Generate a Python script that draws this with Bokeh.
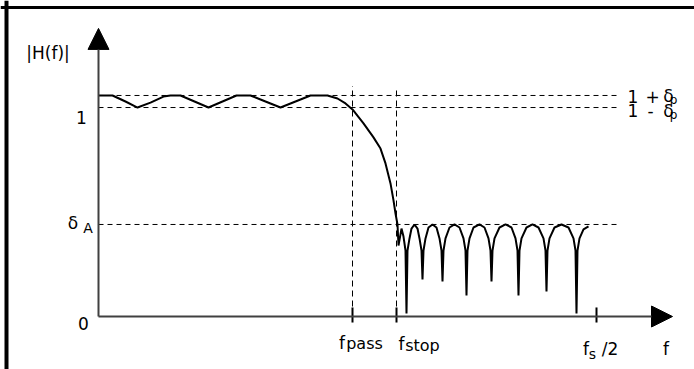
from bokeh.plotting import figure
from bokeh.models import ColumnDataSource, Range1d, Arrow, NormalHead, Span
from bokeh.core.properties import value
from bokeh.embed import file_html
from bokeh.resources import INLINE

# ---- data (normalized frequency, magnitude) ----
f_pass = 0.254
f_stop = 0.298
f_half = 0.498          # fs/2
delta_p_hi = 1.028      # 1 + delta_p
delta_p_lo = 0.972      # 1 - delta_p
delta_a = 0.428         # stopband level

passband_f = [0.000, 0.014, 0.027, 0.039, 0.052, 0.065, 0.072, 0.082, 0.096, 0.110,
              0.124, 0.138, 0.152, 0.167, 0.182, 0.197, 0.212, 0.229]
passband_mag = [1.028, 1.028, 1.000, 0.972, 0.995, 1.023, 1.028, 1.028, 1.000, 0.972,
                1.000, 1.028, 1.028, 1.000, 0.972, 1.000, 1.028, 1.028]

transition_f = [0.239, 0.247, 0.254, 0.265, 0.275, 0.282, 0.287, 0.292, 0.295, 0.297, 0.299]
transition_mag = [1.014, 0.991, 0.963, 0.898, 0.833, 0.781, 0.712, 0.619, 0.540, 0.479, 0.428]

stopband_f = [0.300, 0.303, 0.305, 0.307, 0.308, 0.309, 0.311, 0.313, 0.316, 0.319,
              0.321, 0.323, 0.324, 0.325, 0.327, 0.330, 0.334, 0.338, 0.341, 0.343,
              0.344, 0.345, 0.347, 0.351, 0.356, 0.361, 0.365, 0.367, 0.368, 0.369,
              0.371, 0.375, 0.381, 0.386, 0.390, 0.392, 0.393, 0.394, 0.396, 0.401,
              0.407, 0.413, 0.417, 0.419, 0.420, 0.421, 0.423, 0.428, 0.434, 0.440,
              0.445, 0.447, 0.448, 0.449, 0.451, 0.456, 0.463, 0.470, 0.475, 0.477,
              0.478, 0.479, 0.481, 0.485, 0.490]
stopband_mag = [0.330, 0.409, 0.372, 0.307, 0.014, 0.307, 0.363, 0.409, 0.428, 0.409,
                0.363, 0.307, 0.172, 0.307, 0.363, 0.414, 0.428, 0.414, 0.363, 0.307,
                0.163, 0.307, 0.363, 0.414, 0.428, 0.414, 0.363, 0.307, 0.098, 0.307,
                0.363, 0.414, 0.428, 0.414, 0.363, 0.307, 0.163, 0.307, 0.363, 0.414,
                0.428, 0.414, 0.363, 0.307, 0.098, 0.307, 0.363, 0.414, 0.428, 0.414,
                0.363, 0.307, 0.116, 0.307, 0.363, 0.414, 0.428, 0.414, 0.363, 0.307,
                0.014, 0.307, 0.363, 0.405, 0.419]

tick_freqs = [f_pass, f_stop, f_half]

# ---- figure ----
p = figure(width=694, height=369, output_backend="svg", toolbar_location=None,
           x_range=Range1d(-0.098, 0.596), y_range=Range1d(-0.24651, 1.46977),
           x_axis_location=None, y_axis_location=None, min_border=0)
p.grid.visible = False
p.outline_line_color = None
p.background_fill_color = "white"
p.border_fill_color = "white"

# frame (left and top edges only visible)
p.add_layout(Span(location=-0.092, dimension="height", line_color="black", line_width=4))
p.add_layout(Span(location=1.4372, dimension="width", line_color="black", line_width=3))

# guide lines
guide_end = 0.519
p.segment(x0=[0, 0], y0=[delta_p_hi, delta_p_lo], x1=[guide_end, guide_end],
          y1=[delta_p_hi, delta_p_lo], line_color="black", line_width=1, line_dash="5 4")
p.segment(x0=[0], y0=[delta_a], x1=[0.522], y1=[delta_a],
          line_color="black", line_width=1, line_dash="5 4")
p.segment(x0=[f_pass, f_stop], y0=[0, 0], x1=[f_pass, f_stop], y1=[1.072, 1.065],
          line_color="black", line_width=1, line_dash="6 4")

# ticks on the frequency axis
p.segment(x0=tick_freqs, y0=[-0.028] * 3, x1=tick_freqs, y1=[0.042] * 3,
          line_color="black", line_width=2)

# axes with arrow heads
p.add_layout(Arrow(end=NormalHead(size=21, fill_color="black", line_color="black"),
                   x_start=0, y_start=0, x_end=0, y_end=1.34,
                   line_color="#404040", line_width=2))
p.add_layout(Arrow(end=NormalHead(size=21, fill_color="black", line_color="black"),
                   x_start=0, y_start=0, x_end=0.574, y_end=0,
                   line_color="#404040", line_width=2))

# response curve
curve_f = passband_f + transition_f + stopband_f
curve_mag = passband_mag + transition_mag + stopband_mag
p.line(curve_f, curve_mag, line_color="black", line_width=2)

# ---- labels ----
font = value("DejaVu Sans")

def add_labels(rows, size):
    src = ColumnDataSource(dict(
        text=[r[0] for r in rows], x=[r[1] for r in rows], y=[r[2] for r in rows],
        dx=[r[3] for r in rows], dy=[r[4] for r in rows]))
    p.text(x="x", y="y", text="text", x_offset="dx", y_offset="dy", source=src,
           text_font=font, text_font_size=value(size), text_align="center",
           text_baseline="alphabetic", text_color="black")

big = [
    ("|H(f)|", 0, 1.0, -50.5, -49),
    ("1", 0, 1.0, -17, 16),
    ("0", 0, 0, -15, 7),
    ("δ", 0, delta_a, -25.5, -1),
    ("f", f_pass, 0, -10.5, 26),
    ("f", f_stop, 0, 5, 27),
    ("f", f_half, 0, -10.5, 32),
    ("/2", f_half, 0, 13.5, 32),
    ("f", 0.574, 0, -6.5, 32),
    ("1", guide_end, delta_p_hi, 15.5, 1),
    ("+", guide_end, delta_p_hi, 35, 1),
    ("δ", guide_end, delta_p_hi, 51, 1),
    ("1", guide_end, delta_p_lo, 15.5, 3),
    ("-", guide_end, delta_p_lo, 33, 3),
    ("δ", guide_end, delta_p_lo, 51, 3),
]
mid = [
    ("pass", f_pass, 0, 12, 27),
    ("stop", f_stop, 0, 26, 29),
]
small = [
    ("A", 0, delta_a, -10.5, 4),
    ("s", f_half, 0, -4, 37),
]
tiny = [
    ("p", guide_end, delta_p_hi, 56, 5),
    ("p", guide_end, delta_p_lo, 56, 7),
]
add_labels(big, "17px")
add_labels(mid, "16px")
add_labels(small, "14px")
add_labels(tiny, "12px")

open("out.html", "w").write(file_html(p, INLINE))
